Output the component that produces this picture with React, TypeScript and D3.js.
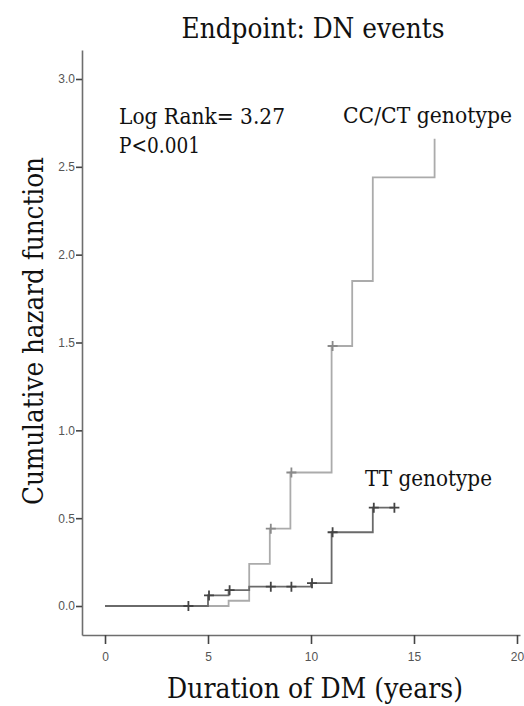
import React, { useEffect, useRef } from 'react';
import * as d3 from 'd3';

// step times (years) and cumulative hazard after each step
const ccTimes = [0, 6, 7, 8, 9, 11, 12, 13, 16];
const ccHazard = [0, 0.03, 0.24, 0.44, 0.76, 1.48, 1.85, 2.44, 2.66];
const ccEnd = 16;
const ccCensored = [8, 9, 11];

const ttTimes = [0, 5, 6, 7, 10, 11, 13];
const ttHazard = [0, 0.06, 0.09, 0.11, 0.13, 0.42, 0.56];
const ttEnd = 14;
const ttCensored = [4, 5, 6, 8, 9, 10, 11, 13, 14];

const xTicks = [0, 5, 10, 15, 20];
const yTicks = [0, 0.5, 1.0, 1.5, 2.0, 2.5, 3.0];

const App = () => {
  const ref = useRef<SVGSVGElement>(null);

  useEffect(() => {
    document.body.style.margin = '0';
    drawChart();
  }, []);

  const drawChart = () => {
    const width = 524,
      height = 706;

    const svg = d3.select(ref.current);
    svg.selectAll('*').remove();
    svg.attr('width', width).attr('height', height).style('display', 'block');

    svg.append('rect').attr('width', width).attr('height', height).attr('fill', '#fff');

    const x = d3.scaleLinear().domain([-1.117, 20.146]).range([82, 520]);
    const y = d3.scaleLinear().domain([-0.165, 3.165]).range([635, 50]);

    const axisColor = '#6e6e6e';

    // axes
    const xAxis = d3.axisBottom(x).tickValues(xTicks).tickSize(9).tickSizeOuter(0).tickFormat(d3.format('d'));
    const gx = svg.append('g').attr('transform', `translate(0,${y.range()[0]})`).call(xAxis);
    const yAxis = d3.axisLeft(y).tickValues(yTicks).tickSize(6).tickSizeOuter(0).tickFormat(d3.format('.1f'));
    const gy = svg.append('g').attr('transform', `translate(${x.range()[0]},0)`).call(yAxis);

    [gx, gy].forEach(g => {
      g.attr('font-family', 'Liberation Sans, Arial, sans-serif').attr('font-size', 12);
      g.select('.domain').attr('stroke', axisColor).attr('stroke-width', 1.6);
      g.selectAll('.tick line').attr('stroke', '#444').attr('stroke-width', 1.6);
      g.selectAll('.tick text').attr('fill', '#555');
    });
    gx.selectAll('.tick text').attr('dy', '1.15em');
    gy.selectAll('.tick text').attr('x', -7);

    const line = d3
      .line<[number, number]>()
      .x(d => x(d[0]))
      .y(d => y(d[1]))
      .curve(d3.curveStepAfter);

    const stepAt = (times: number[], vals: number[], t: number) => {
      let v = vals[0];
      times.forEach((tt, i) => {
        if (tt <= t) v = vals[i];
      });
      return v;
    };

    const series = [
      { times: ccTimes, vals: ccHazard, end: ccEnd, cens: ccCensored, color: '#ababab', mark: '#8a8a8a' },
      { times: ttTimes, vals: ttHazard, end: ttEnd, cens: ttCensored, color: '#6a6a6a', mark: '#444' },
    ];

    series.forEach(s => {
      const pts: [number, number][] = s.times.map((t, i) => [t, s.vals[i]] as [number, number]);
      pts.push([s.end, s.vals[s.vals.length - 1]]);
      svg
        .append('path')
        .attr('d', line(pts))
        .attr('fill', 'none')
        .attr('stroke', s.color)
        .attr('stroke-width', 1.8);

      svg
        .selectAll(null)
        .data(s.cens)
        .enter()
        .append('path')
        .attr('d', t => {
          const cx = x(t) + 1,
            cy = y(stepAt(s.times, s.vals, t));
          return `M${cx},${cy - 5}V${cy + 5}M${cx - 5},${cy}H${cx + 5}`;
        })
        .attr('stroke', s.mark)
        .attr('stroke-width', 1.8)
        .attr('fill', 'none');
    });

    const serif = 'DejaVu Serif, serif';

    // serif text squeezed to the widths of the original Times lettering
    const addText = (txt: string, tx: number, ty: number, size: number, len: number, anchor = 'start') =>
      svg
        .append('text')
        .attr('x', tx)
        .attr('y', ty)
        .attr('text-anchor', anchor)
        .attr('font-family', serif)
        .attr('font-size', size)
        .attr('textLength', len)
        .attr('lengthAdjust', 'spacingAndGlyphs')
        .attr('fill', '#111')
        .text(txt);

    addText('Endpoint: DN events', 313, 38, 27, 263, 'middle');
    addText('Log Rank= 3.27', 119, 124, 22, 166);
    addText('P<0.001', 119, 153, 22, 81);
    addText('CC/CT genotype', 343, 123, 22, 169);
    addText('TT genotype', 365, 486, 22, 127);
    addText('Duration of DM (years)', 315, 698, 28, 296, 'middle');

    svg
      .append('text')
      .attr('transform', `translate(43,331) rotate(-90)`)
      .attr('text-anchor', 'middle')
      .attr('font-family', serif)
      .attr('font-size', 28)
      .attr('textLength', 348)
      .attr('lengthAdjust', 'spacingAndGlyphs')
      .attr('fill', '#111')
      .text('Cumulative hazard function');
  };

  return <svg ref={ref}></svg>;
};

export default App;
